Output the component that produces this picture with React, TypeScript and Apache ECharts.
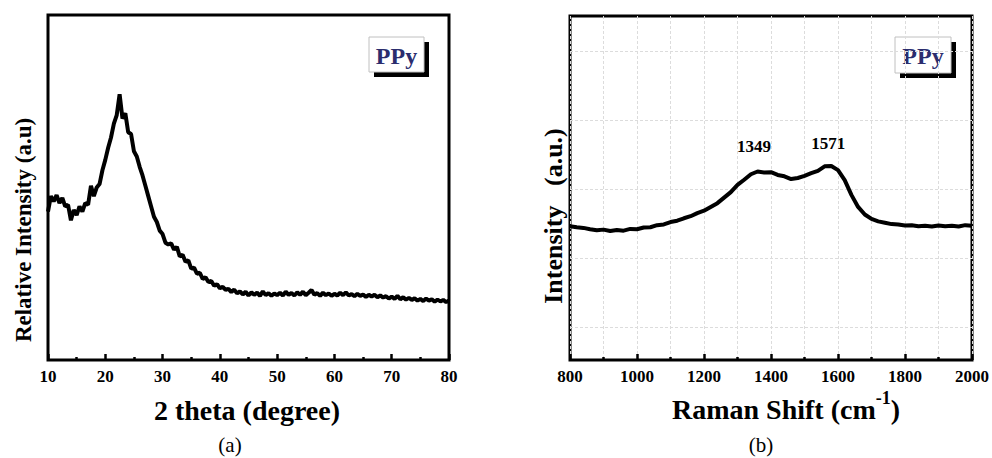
import React, { useEffect, useRef } from "react";
import * as echarts from "echarts";

// ---------- (a) XRD ----------
const xrdTicks = [10, 20, 30, 40, 50, 60, 70, 80];
const xrdTheta = [
  10.0, 10.5, 11.0, 11.5, 12.0, 12.5, 13.0, 13.5, 14.0, 14.5, 15.0, 15.5, 16.0, 16.5, 17.0, 17.5, 18.0, 18.5, 19.0, 19.5,
  20.0, 20.5, 21.0, 21.5, 22.0, 22.5, 23.0, 23.5, 24.0, 24.5, 25.0, 25.5, 26.0, 26.5, 27.0, 27.5, 28.0, 28.5, 29.0, 29.5,
  30.0, 30.5, 31.0, 31.5, 32.0, 32.5, 33.0, 33.5, 34.0, 34.5, 35.0, 35.5, 36.0, 36.5, 37.0, 37.5, 38.0, 38.5, 39.0, 39.5,
  40.0, 40.5, 41.0, 41.5, 42.0, 42.5, 43.0, 43.5, 44.0, 44.5, 45.0, 45.5, 46.0, 46.5, 47.0, 47.5, 48.0, 48.5, 49.0, 49.5,
  50.0, 50.5, 51.0, 51.5, 52.0, 52.5, 53.0, 53.5, 54.0, 54.5, 55.0, 55.5, 56.0, 56.5, 57.0, 57.5, 58.0, 58.5, 59.0, 59.5,
  60.0, 60.5, 61.0, 61.5, 62.0, 62.5, 63.0, 63.5, 64.0, 64.5, 65.0, 65.5, 66.0, 66.5, 67.0, 67.5, 68.0, 68.5, 69.0, 69.5,
  70.0, 70.5, 71.0, 71.5, 72.0, 72.5, 73.0, 73.5, 74.0, 74.5, 75.0, 75.5, 76.0, 76.5, 77.0, 77.5, 78.0, 78.5, 79.0, 79.5,
  80.0,
];
const xrdIntensity = [
  43.0, 47.5, 46.0, 47.8, 45.5, 47.0, 44.5, 45.0, 40.5, 43.5, 42.0, 44.5, 43.0, 45.5, 45.0, 50.5, 47.5, 50.0, 51.0, 55.0,
  58.0, 61.5, 64.5, 68.5, 71.0, 77.0, 70.0, 71.5, 66.0, 65.5, 60.5, 59.0, 56.0, 53.5, 50.5, 47.5, 44.5, 41.5, 40.0, 37.5,
  36.5, 34.0, 33.5, 33.8, 32.0, 32.8, 30.0, 30.5, 28.5, 28.9, 26.5, 26.8, 25.0, 25.3, 23.5, 24.0, 22.6, 22.9, 21.5, 22.0,
  20.8, 21.2, 20.3, 20.6, 19.7, 20.4, 19.3, 19.9, 19.0, 19.8, 18.7, 19.6, 18.9, 19.5, 18.6, 19.9, 18.8, 19.4, 18.6, 19.3,
  18.8, 19.5, 18.7, 19.8, 18.9, 19.4, 18.7, 19.6, 18.9, 19.8, 18.8, 19.5, 20.3, 18.9, 19.4, 18.6, 19.5, 18.8, 19.3, 18.6,
  19.2, 18.7, 19.5, 18.8, 19.6, 18.7, 19.1, 18.5, 19.2, 18.6, 19.0, 18.3, 18.9, 18.4, 18.9, 18.2, 18.7, 18.1, 18.5, 17.8,
  18.4, 17.7, 18.6, 17.6, 18.2, 17.5, 18.0, 17.4, 17.9, 17.2, 17.7, 17.1, 17.8, 17.2, 17.6, 16.9, 17.5, 17.0, 17.4, 16.8,
  17.2,
];

// ---------- (b) Raman ----------
const ramanTicks = [800, 1000, 1200, 1400, 1600, 1800, 2000];
const ramanShift = [
  800, 820, 840, 860, 880, 900, 920, 940, 960, 980, 1000, 1020, 1040, 1060, 1080, 1100, 1120, 1140, 1160, 1180,
  1200, 1220, 1240, 1260, 1280, 1300, 1320, 1340, 1360, 1380, 1400, 1420, 1440, 1460, 1480, 1500, 1520, 1540, 1560, 1580,
  1600, 1620, 1640, 1660, 1680, 1700, 1720, 1740, 1760, 1780, 1800, 1820, 1840, 1860, 1880, 1900, 1920, 1940, 1960, 1980, 2000,
];
const ramanIntensity = [
  38.9, 38.6, 38.4, 38.0, 37.7, 37.9, 37.5, 37.8, 37.6, 38.1, 38.0, 38.5, 38.6, 39.2, 39.4, 40.1, 40.5, 41.2, 41.8, 42.7,
  43.4, 44.5, 45.6, 47.2, 48.8, 50.9, 52.4, 54.0, 54.8, 54.5, 54.6, 53.8, 53.4, 52.6, 52.9, 53.5, 54.3, 55.0, 56.3, 56.4,
  55.2, 52.3, 48.0, 44.5, 42.3, 41.0, 40.3, 39.9, 39.5, 39.4, 39.1, 39.2, 38.9, 39.0, 38.8, 39.1, 38.9, 39.0, 38.8, 39.2, 39.0,
];
const ramanPeaks = [1349, 1571];
const ramanPeakLabelY = [62, 63];

const FONT = "'Liberation Serif', 'Times New Roman', serif";

export default function App() {
  const ref = useRef<HTMLDivElement>(null);
  useEffect(() => {
    if (!ref.current) return;
    const chart = echarts.init(ref.current, null, { renderer: "svg" });

    const tickLabel = {
      color: "#000",
      fontFamily: "Liberation Serif",
      fontWeight: "bold",
      fontSize: 17,
      margin: 8,
      formatter: (v: number) => String(v),
    };
    const xrdStep = xrdTicks[1] - xrdTicks[0];
    const ramanStep = ramanTicks[1] - ramanTicks[0];

    const ppyBox = (x: number, y: number, w: number, h: number) => [
      { type: "rect", shape: { x: x + 5, y: y + 5, width: w, height: h }, style: { fill: "#000" } },
      { type: "rect", shape: { x, y, width: w, height: h }, style: { fill: "#fff", stroke: "#c0c0c0", lineWidth: 1 } },
      {
        type: "text",
        x: x + w / 2,
        y: y + h / 2 + 1,
        style: { text: "PPy", font: `bold 24px ${FONT}`, fill: "#2b2d6e", align: "center", verticalAlign: "middle" },
      },
    ];

    const option: any = {
      animation: false,
      backgroundColor: "#fff",
      grid: [
        { left: 48, top: 15, width: 401, height: 345, show: true, borderColor: "#000", borderWidth: 3, backgroundColor: "transparent" },
        { left: 570, top: 16, width: 402, height: 344, show: true, borderColor: "#000", borderWidth: 3, backgroundColor: "transparent" },
        { left: 570, top: 51, width: 402, height: 276, show: false },
      ],
      xAxis: [
        {
          type: "value",
          gridIndex: 0,
          min: xrdTicks[0],
          max: xrdTicks[xrdTicks.length - 1],
          interval: xrdStep,
          axisLine: { show: false },
          axisTick: { show: true, inside: true, length: 6, lineStyle: { color: "#000", width: 2.5 } },
          minorTick: { show: true, splitNumber: 2, length: 3, lineStyle: { color: "#000", width: 2.5 } },
          axisLabel: tickLabel,
          splitLine: { show: false },
        },
        {
          type: "value",
          gridIndex: 1,
          min: ramanTicks[0],
          max: ramanTicks[ramanTicks.length - 1],
          interval: ramanStep,
          axisLine: { show: false },
          axisTick: { show: true, inside: true, length: 6, lineStyle: { color: "#000", width: 2.5 } },
          minorTick: { show: true, splitNumber: 2, length: 3, lineStyle: { color: "#000", width: 2.5 } },
          axisLabel: tickLabel,
          splitLine: { show: true, lineStyle: { color: "#dcdcdc", width: 1, type: [3, 2] } },
          minorSplitLine: { show: true, lineStyle: { color: "#dcdcdc", width: 1, type: [3, 2] } },
        },
        { type: "value", gridIndex: 2, min: 0, max: 1, show: false },
      ],
      yAxis: [
        { type: "value", gridIndex: 0, min: 0, max: 100, axisLine: { show: false }, axisTick: { show: false }, axisLabel: { show: false }, splitLine: { show: false } },
        { type: "value", gridIndex: 1, min: 0, max: 100, axisLine: { show: false }, axisTick: { show: false }, axisLabel: { show: false }, splitLine: { show: false } },
        {
          type: "value",
          gridIndex: 2,
          min: 0,
          max: 4,
          interval: 1,
          axisLine: { show: false },
          axisTick: { show: false },
          axisLabel: { show: false },
          splitLine: { show: true, lineStyle: { color: "#dcdcdc", width: 1, type: [3, 2] } },
        },
      ],
      series: [
        {
          type: "line",
          xAxisIndex: 0,
          yAxisIndex: 0,
          symbol: "none",
          lineStyle: { color: "#000", width: 4 },
          data: xrdTheta.map((t, i) => [t, xrdIntensity[i]]),
          z: 5,
        },
        {
          type: "line",
          xAxisIndex: 1,
          yAxisIndex: 1,
          symbol: "none",
          lineStyle: { color: "#000", width: 4 },
          data: ramanShift.map((s, i) => [s, ramanIntensity[i]]),
          z: 5,
          markPoint: {
            symbol: "circle",
            symbolSize: 0,
            silent: true,
            label: {
              show: true,
              position: "inside",
              color: "#000",
              fontFamily: "Liberation Serif",
              fontWeight: "bold",
              fontSize: 17,
            },
            data: ramanPeaks.map((p, i) => ({ coord: [p, ramanPeakLabelY[i]], label: { formatter: String(p) } })),
          },
        },
        { type: "line", xAxisIndex: 2, yAxisIndex: 2, data: [], symbol: "none" },
      ],
      graphic: [
        ...ppyBox(369, 37, 55, 35),
        ...ppyBox(895, 37, 56, 36),
        {
          type: "text",
          x: 23,
          y: 230,
          rotation: Math.PI / 2,
          style: { text: "Relative Intensity (a.u)", font: `bold 23px ${FONT}`, fill: "#000", align: "center", verticalAlign: "middle" },
        },
        {
          type: "text",
          x: 553,
          y: 216,
          rotation: Math.PI / 2,
          style: { text: "Intensity\u00a0\u00a0\u00a0(a.u.)", font: `bold 26px ${FONT}`, fill: "#000", align: "center", verticalAlign: "middle" },
        },
        {
          type: "text",
          x: 247,
          y: 410,
          style: { text: "2 theta (degree)", font: `bold 28px ${FONT}`, fill: "#000", align: "center", verticalAlign: "middle" },
        },
        {
          type: "text",
          x: 786,
          y: 406,
          style: {
            text: "{a|Raman Shift (cm}{s|-1}{a|)}",
            align: "center",
            verticalAlign: "middle",
            rich: {
              a: { font: `bold 28px ${FONT}`, fill: "#000", color: "#000", lineHeight: 34, verticalAlign: "bottom" },
              s: { font: `bold 18px ${FONT}`, fill: "#000", color: "#000", lineHeight: 34, verticalAlign: "top" },
            },
          },
        },
        {
          type: "text",
          x: 230,
          y: 445,
          style: { text: "(a)", font: `21px ${FONT}`, fill: "#000", align: "center", verticalAlign: "middle" },
        },
        {
          type: "text",
          x: 761,
          y: 445,
          style: { text: "(b)", font: `21px ${FONT}`, fill: "#000", align: "center", verticalAlign: "middle" },
        },
      ],
    };

    chart.setOption(option);
    return () => chart.dispose();
  }, []);

  return (
    <div
      ref={ref}
      style={{ position: "fixed", left: 0, top: 0, width: 992, height: 458, background: "#fff" }}
    />
  );
}
